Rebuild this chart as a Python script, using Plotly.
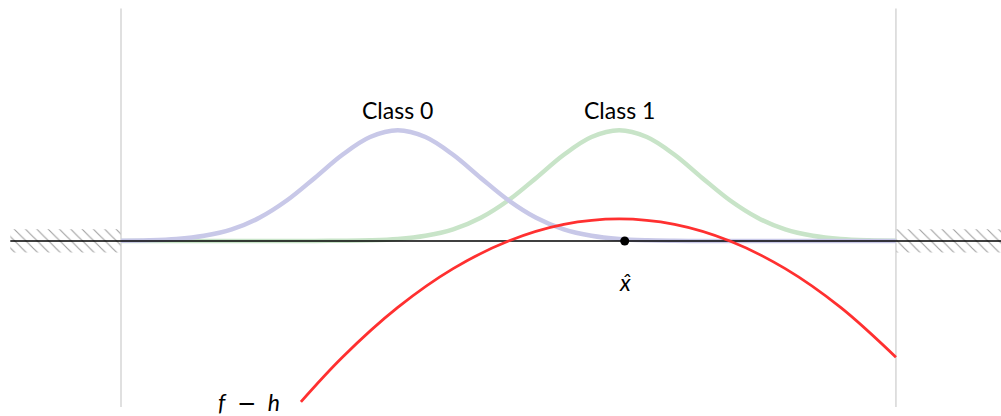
import plotly.graph_objects as go

# domain bounds and hatched walls
domain_x = [-3.5, 3.5]
wall_outer = 4.5
wall_half_height = 0.105
guide_y = [-1.5, 2.1]

# class densities sampled on a shared grid
grid_x = [-3.5, -3.25, -3.0, -2.75, -2.5, -2.25, -2.0, -1.75, -1.5, -1.25,
          -1.0, -0.75, -0.5, -0.25, 0.0, 0.25, 0.5, 0.75, 1.0, 1.25,
          1.5, 1.75, 2.0, 2.25, 2.5, 2.75, 3.0, 3.25, 3.5]
class0_y = [0.002, 0.006, 0.018, 0.047, 0.105, 0.21, 0.368, 0.57, 0.779, 0.939,
            1.0, 0.939, 0.779, 0.57, 0.368, 0.21, 0.105, 0.047, 0.018, 0.006,
            0.002, 0.0005, 0.0001, 0.0, 0.0, 0.0, 0.0, 0.0, 0.0]
class1_y = [0.0, 0.0, 0.0, 0.0, 0.0, 0.0, 0.0001, 0.0005, 0.002, 0.006,
            0.018, 0.047, 0.105, 0.21, 0.368, 0.57, 0.779, 0.939, 1.0, 0.939,
            0.779, 0.57, 0.368, 0.21, 0.105, 0.047, 0.018, 0.006, 0.002]

# f - h curve
fh_x = [-1.875, -1.5, -1.0, -0.5, 0.0, 0.5, 1.0, 1.5, 2.0, 2.5, 3.0, 3.5]
fh_y = [-1.453, -1.05, -0.6, -0.25, 0.0, 0.15, 0.2, 0.15, 0.0, -0.25, -0.6, -1.05]

x_hat = 1.05

FONT = "Lato"
BLUE = "#c8c8e8"
GREEN = "#c8e4c8"
RED = "#ff3030"

fig = go.Figure()

# hatched walls outside the domain
for x0, x1 in [(-wall_outer, domain_x[0]), (domain_x[1], wall_outer)]:
    fig.add_trace(go.Scatter(
        x=[x0, x1, x1, x0, x0],
        y=[-wall_half_height, -wall_half_height, wall_half_height, wall_half_height, -wall_half_height],
        mode="lines", fill="toself", line=dict(width=0),
        fillcolor="rgba(0,0,0,0)",
        fillpattern=dict(shape="\\", fgcolor="#404040", bgcolor="white", size=8, solidity=0.14),
        hoverinfo="skip",
    ))

# vertical guides at the domain edges
for xv in domain_x:
    fig.add_trace(go.Scatter(x=[xv, xv], y=guide_y, mode="lines",
                             line=dict(color="#cfcfcf", width=1.3), hoverinfo="skip"))

fig.add_trace(go.Scatter(x=grid_x, y=class1_y, mode="lines",
                         line=dict(color=GREEN, width=4.5, shape="spline")))
fig.add_trace(go.Scatter(x=grid_x, y=class0_y, mode="lines",
                         line=dict(color=BLUE, width=4.5, shape="spline")))

fig.add_trace(go.Scatter(x=[-wall_outer, wall_outer], y=[0, 0], mode="lines",
                         line=dict(color="black", width=1.3)))

fig.add_trace(go.Scatter(x=fh_x, y=fh_y, mode="lines",
                         line=dict(color=RED, width=2.8, shape="spline")))

fig.add_trace(go.Scatter(x=[x_hat], y=[0], mode="markers",
                         marker=dict(color="black", size=9)))

minus = '<span style="font-family:DejaVu Sans">−</span>'
labels = [
    (-1.0, 1.18, "Class 0"),
    (1.0, 1.18, "Class 1"),
    (x_hat, -0.37, "<i>x̂</i>"),
    (-2.34, -1.45, "<i>f</i>\u2002" + minus + "\u2002<i>h</i>"),
]
for lx, ly, txt in labels:
    fig.add_annotation(x=lx, y=ly, text=txt, showarrow=False,
                       font=dict(family=FONT, size=23, color="black"))

fig.update_layout(
    width=1001, height=416,
    margin=dict(l=0, r=0, t=0, b=0),
    paper_bgcolor="white", plot_bgcolor="white",
    showlegend=False,
    xaxis=dict(range=[-4.593, 4.449], visible=False, fixedrange=True),
    yaxis=dict(range=[-1.581, 2.177], visible=False, fixedrange=True),
)

fig.write_html("out.html", config={"displayModeBar": False},
               post_script="document.body.style.margin='0';")
